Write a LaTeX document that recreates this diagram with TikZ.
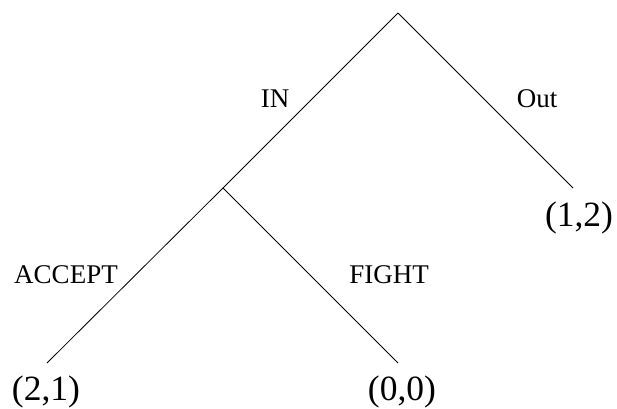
\documentclass[tikz,border=0pt]{standalone}
\usepackage{fontspec}
\setmainfont{Liberation Serif}
\begin{document}
\begin{tikzpicture}[x=1pt,y=1pt,
  branch/.style={draw=black,line width=0.8pt},
  movelabel/.style={anchor=base,inner sep=0pt,font=\fontsize{27}{30}\selectfont},
  payoff/.style={anchor=base,inner sep=0pt,font=\fontsize{35.5}{40}\selectfont}]
  \useasboundingbox (0,0) rectangle (617,408);
  % decision points and branch ends
  \coordinate (root) at (398,395);
  \coordinate (entrant) at (223,220);
  \coordinate (outend) at (573,220);
  \coordinate (acceptend) at (47,45);
  \coordinate (fightend) at (398,45);
  % branches
  \draw[branch] (root) -- (entrant);
  \draw[branch] (root) -- (outend);
  \draw[branch] (entrant) -- (acceptend);
  \draw[branch] (entrant) -- (fightend);
  % move labels
  \node[movelabel] (lin) at (275,301) {IN};
  \node[movelabel] (lout) at (537,301) {Out};
  \node[movelabel] (laccept) at (66,125) {ACCEPT};
  \node[movelabel] (lfight) at (389,125) {FIGHT};
  % payoffs
  \node[payoff] (p21) at (46,8) {(2,1)};
  \node[payoff] (p00) at (402,8) {(0,0)};
  \node[payoff] (p12) at (579,182) {(1,2)};
\end{tikzpicture}
\end{document}
